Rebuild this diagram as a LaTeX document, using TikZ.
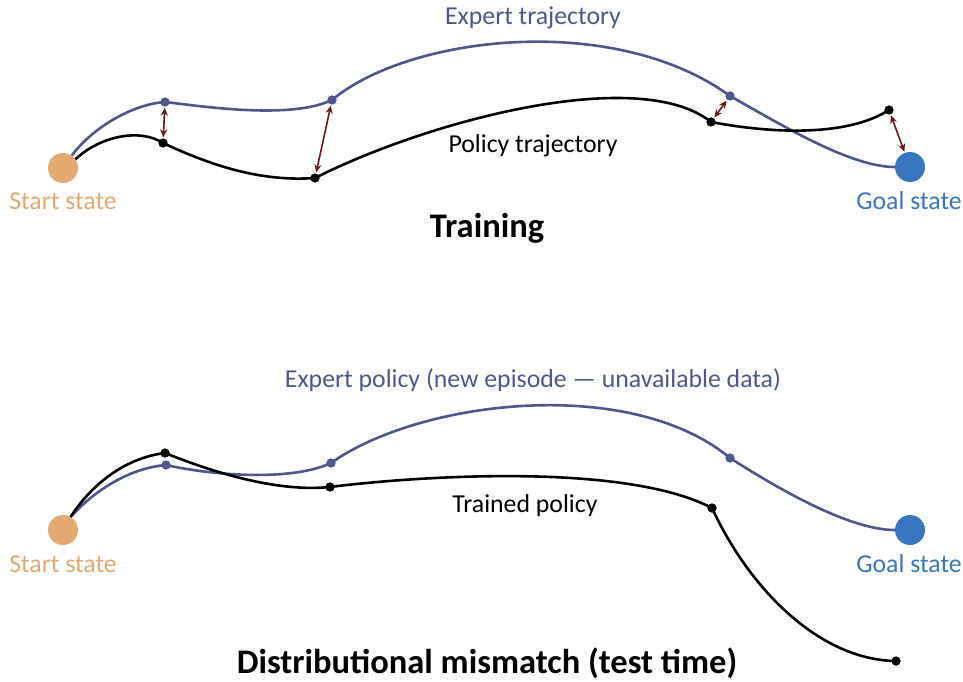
\documentclass[tikz,border=0pt]{standalone}
\usepackage{fontspec}
\setmainfont{Carlito}
\usetikzlibrary{arrows.meta}
\definecolor{expertc}{RGB}{78,87,140}
\definecolor{startc}{RGB}{228,169,112}
\definecolor{goalc}{RGB}{58,118,192}
\definecolor{gapc}{RGB}{112,22,22}
\tikzset{
  statedot/.style={circle,inner sep=0pt,minimum size=30pt},
  startnode/.style={statedot,fill=startc},
  goalnode/.style={statedot,fill=goalc},
  edot/.style={circle,inner sep=0pt,minimum size=9pt,fill=expertc},
  pdot/.style={circle,inner sep=0pt,minimum size=9pt,fill=black},
  etraj/.style={draw=expertc,line width=2.6pt},
  ptraj/.style={draw=black,line width=2.6pt},
  gap/.style={draw=gapc,line width=1.6pt,{Stealth[length=8pt,width=7pt]}-{Stealth[length=8pt,width=7pt]},shorten <=1pt,shorten >=1pt},
  lbl/.style={font=\fontsize{25.8}{29}\selectfont,inner sep=0pt},
  title/.style={font=\fontsize{34.5}{39}\selectfont\bfseries,inner sep=0pt}
}
\begin{document}
\begin{tikzpicture}[x=1pt,y=-1pt]
\useasboundingbox (0,0) rectangle (963,682);

% ---------------- Training ----------------
\node[startnode] (s1) at (63,168) {};
\node[goalnode] (g1) at (910,167) {};
\node[edot] (e11) at (165,102) {};
\node[edot] (e12) at (332,100) {};
\node[edot] (e13) at (730,96) {};
\node[pdot] (p11) at (163,143) {};
\node[pdot] (p12) at (315,178) {};
\node[pdot] (p13) at (711,122) {};
\node[pdot] (p14) at (889,110) {};

% expert trajectory
\draw[etraj] (s1.55) .. controls (95,125) and (135,104) .. (e11.center)
  .. controls (200,106) and (290,120) .. (e12.center)
  .. controls (410,35) and (615,12) .. (e13.center)
  .. controls (780,124) and (850,167) .. (g1.west);
% policy trajectory
\draw[ptraj] (s1.35) .. controls (100,136) and (140,128) .. (p11.center)
  .. controls (210,165) and (260,182) .. (p12.center)
  .. controls (430,120) and (640,65) .. (p13.center)
  .. controls (780,135) and (850,135) .. (p14.center);
\foreach \n in {e11,e12,e13}{\node[edot] at (\n) {};}
\foreach \n in {p11,p12,p13,p14}{\node[pdot] at (\n) {};}

% deviations between expert and policy
\draw[gap] (e11) -- (p11);
\draw[gap] (e12) -- (p12);
\draw[gap] (e13) -- (p13);
\draw[gap] (p14) -- (g1);

\node[lbl,text=expertc] (l1) at (533,18) {Expert trajectory};
\node[lbl] (l2) at (533,146) {Policy trajectory};
\node[lbl,text=startc] (l3) at (63,201) {Start state};
\node[lbl,text=goalc] (l4) at (909,201) {Goal state};
\node[title] (t1) at (487,228) {Training};

% ---------------- Test time ----------------
\node[startnode] (s2) at (63,530) {};
\node[goalnode] (g2) at (910,530) {};
\node[edot] (e21) at (166,465) {};
\node[edot] (e22) at (331,463) {};
\node[edot] (e23) at (730,458) {};
\node[pdot] (p21) at (165,453) {};
\node[pdot] (p22) at (330,487) {};
\node[pdot] (p23) at (712,508) {};
\node[pdot] (p24) at (896,661) {};

% expert policy
\draw[etraj] (s2.60) .. controls (95,490) and (130,468) .. (e21.center)
  .. controls (210,475) and (290,482) .. (e22.center)
  .. controls (420,400) and (630,375) .. (e23.center)
  .. controls (780,490) and (850,530) .. (g2.west);
% trained policy
\draw[ptraj] (s2.60) .. controls (92,484) and (125,458) .. (p21.center)
  .. controls (220,475) and (280,492) .. (p22.center)
  .. controls (400,478) and (620,460) .. (p23.center)
  .. controls (750,590) and (820,660) .. (p24.center);
\foreach \n in {e21,e22,e23}{\node[edot] at (\n) {};}
\foreach \n in {p21,p22,p23,p24}{\node[pdot] at (\n) {};}

\node[lbl,text=expertc] (l5) at (533,380) {Expert policy (new episode — unavailable data)};
\node[lbl] (l6) at (525,506) {Trained policy};
\node[lbl,text=startc] (l7) at (63,564) {Start state};
\node[lbl,text=goalc] (l8) at (909,564) {Goal state};
\node[title] (t2) at (487,663) {Distributional mismatch (test time)};
\end{tikzpicture}
\end{document}
